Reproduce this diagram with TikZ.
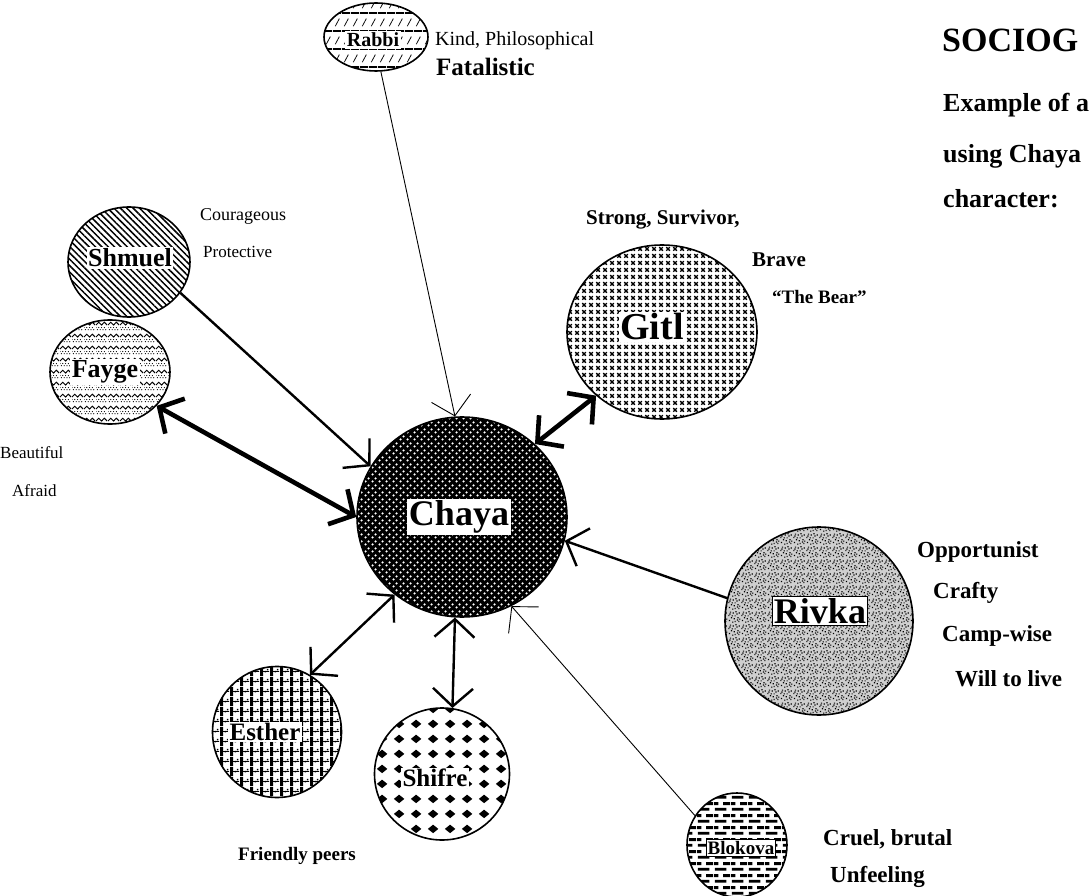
\documentclass[tikz,border=0pt]{standalone}
\usepackage{fontspec}
\setmainfont{Liberation Serif}
\usetikzlibrary{shapes.geometric,arrows.meta,patterns,patterns.meta}
\newcommand\fsz[1]{\fontsize{#1}{#1}\selectfont}
% --- fill patterns ---
\pgfdeclarepatternformonly{chayadots}{\pgfqpoint{0pt}{0pt}}{\pgfqpoint{7pt}{7pt}}{\pgfqpoint{7pt}{7pt}}{%
  \pgfpathcircle{\pgfqpoint{1.75pt}{1.75pt}}{1.4pt}%
  \pgfpathcircle{\pgfqpoint{5.25pt}{5.25pt}}{1.4pt}%
  \pgfusepath{fill}}
\pgfdeclarepatternformonly{gitlx}{\pgfqpoint{0pt}{0pt}}{\pgfqpoint{7pt}{7pt}}{\pgfqpoint{7pt}{7pt}}{%
  \pgfsetlinewidth{1.5pt}%
  \pgfpathmoveto{\pgfqpoint{1.5pt}{1.5pt}}\pgfpathlineto{\pgfqpoint{5.5pt}{5.5pt}}%
  \pgfpathmoveto{\pgfqpoint{1.5pt}{5.5pt}}\pgfpathlineto{\pgfqpoint{5.5pt}{1.5pt}}%
  \pgfusepath{stroke}}
\pgfdeclarepatternformonly{rivkanoise}{\pgfqpoint{0pt}{0pt}}{\pgfqpoint{13pt}{13pt}}{\pgfqpoint{13pt}{13pt}}{%
  \foreach \a/\b in {1/2,4/7,7/1,10/5,11.5/10,2/11,6/4,9/9,3/5,11/1,5/10,8/11.5,0.3/7.5,7/7,12/3.5,4.5/0.3,1.5/9,9.5/2.5}{%
    \pgfpathrectangle{\pgfqpoint{\a pt}{\b pt}}{\pgfqpoint{1.3pt}{1.3pt}}}%
  \pgfusepath{fill}}
\pgfdeclarepatternformonly{faygezig}{\pgfqpoint{0pt}{0pt}}{\pgfqpoint{12pt}{12pt}}{\pgfqpoint{12pt}{12pt}}{%
  \pgfsetlinewidth{1pt}%
  \pgfpathmoveto{\pgfqpoint{0pt}{7.5pt}}\pgfpathlineto{\pgfqpoint{3pt}{10.5pt}}%
  \pgfpathlineto{\pgfqpoint{6pt}{7.5pt}}\pgfpathlineto{\pgfqpoint{9pt}{10.5pt}}%
  \pgfpathlineto{\pgfqpoint{12pt}{7.5pt}}\pgfusepath{stroke}%
  \foreach \a/\b in {1.5/2.5,4.5/2.5,7.5/2.5,10.5/2.5,0/4.8,3/4.8,6/4.8,9/4.8}{%
    \pgfpathcircle{\pgfqpoint{\a pt}{\b pt}}{0.65pt}}%
  \pgfusepath{fill}}
\pgfdeclarepatternformonly{rabbistripe}{\pgfqpoint{0pt}{0pt}}{\pgfqpoint{9pt}{18pt}}{\pgfqpoint{9pt}{18pt}}{%
  \pgfsetlinewidth{1.8pt}%
  \pgfpathmoveto{\pgfqpoint{0pt}{1pt}}\pgfpathlineto{\pgfqpoint{9pt}{1pt}}\pgfusepath{stroke}%
  \pgfsetlinewidth{0.8pt}%
  \pgfpathmoveto{\pgfqpoint{2.5pt}{6pt}}\pgfpathlineto{\pgfqpoint{7pt}{14pt}}\pgfusepath{stroke}}
\pgfdeclarepatternformonly{esthercheck}{\pgfqpoint{0pt}{0pt}}{\pgfqpoint{10pt}{10pt}}{\pgfqpoint{10pt}{10pt}}{%
  \pgfpathrectangle{\pgfqpoint{0pt}{0pt}}{\pgfqpoint{3.5pt}{10pt}}%
  \pgfpathrectangle{\pgfqpoint{5pt}{4pt}}{\pgfqpoint{1.6pt}{1.6pt}}%
  \pgfpathrectangle{\pgfqpoint{7.5pt}{6.2pt}}{\pgfqpoint{1.6pt}{1.6pt}}%
  \pgfpathrectangle{\pgfqpoint{3.5pt}{4.6pt}}{\pgfqpoint{6.5pt}{0.8pt}}%
  \pgfusepath{fill}}
\pgfdeclarepatternformonly{shifrediamond}{\pgfqpoint{0pt}{0pt}}{\pgfqpoint{17pt}{15pt}}{\pgfqpoint{17pt}{15pt}}{%
  \pgfpathmoveto{\pgfqpoint{3pt}{7.5pt}}\pgfpathlineto{\pgfqpoint{8.5pt}{12pt}}%
  \pgfpathlineto{\pgfqpoint{14pt}{7.5pt}}\pgfpathlineto{\pgfqpoint{8.5pt}{3pt}}%
  \pgfpathclose\pgfusepath{fill}}
\pgfdeclarepatternformonly{blokbricks}{\pgfqpoint{0pt}{0pt}}{\pgfqpoint{17pt}{12pt}}{\pgfqpoint{17pt}{12pt}}{%
  \pgfpathrectangle{\pgfqpoint{1pt}{1.5pt}}{\pgfqpoint{12pt}{3pt}}%
  \pgfpathrectangle{\pgfqpoint{9.5pt}{7.5pt}}{\pgfqpoint{7.5pt}{3pt}}%
  \pgfpathrectangle{\pgfqpoint{0pt}{7.5pt}}{\pgfqpoint{4.5pt}{3pt}}%
  \pgfusepath{fill}}
\tikzset{
  person/.style={ellipse, draw=black, line width=1.6pt, inner sep=0pt},
  tag/.style={fill=white, inner sep=1.5pt, text=black},
  desc/.style={anchor=base west, inner sep=0pt},
  thinl/.style={line width=0.9pt},
  medl/.style={line width=2.4pt},
  thickl/.style={line width=4.6pt},
  bigbarb/.tip={Straight Barb[length=18pt,width=40pt]},
}
\begin{document}
\begin{tikzpicture}[x=1pt,y=-1pt]
\path[use as bounding box, fill=white] (0,0) rectangle (1090,896);

% ---- characters ----
\node[person, minimum width=104pt, minimum height=68pt, pattern=rabbistripe] (rabbi) at (376,37) {};
\node[person, minimum width=122pt, minimum height=110pt, pattern={Lines[angle=-45,distance=4.5pt,line width=1.5pt]}] (shmuel) at (129,262) {};
\node[person, minimum width=120pt, minimum height=104pt, pattern=faygezig] (fayge) at (110,372) {};
\node[person, minimum width=190pt, minimum height=174pt, pattern=gitlx] (gitl) at (662,332) {};
\node[person, minimum width=210pt, minimum height=200pt, preaction={fill=black}, pattern=chayadots, pattern color=white] (chaya) at (462,517) {};
\node[person, minimum width=188pt, minimum height=188pt, preaction={fill=gray!38}, pattern=rivkanoise] (rivka) at (819,621) {};
\node[person, minimum width=129pt, minimum height=131pt, pattern=esthercheck] (esther) at (277,732) {};
\node[person, minimum width=135pt, minimum height=132pt, pattern=shifrediamond] (shifre) at (442,774) {};
\node[person, minimum width=100pt, minimum height=104pt, pattern=blokbricks] (blokova) at (737,845) {};

% ---- connectors ----
\draw[thinl, -bigbarb] (rabbi.-82) -- (chaya.94);
\draw[medl, -bigbarb] (shmuel.-31) -- (chaya.151);
\draw[thickl, bigbarb-bigbarb] (fayge.-36) -- (chaya.180);
\draw[thickl, bigbarb-bigbarb] (gitl.224) -- (chaya.45);
\draw[medl, -bigbarb] (rivka.166) -- (chaya.-13);
\draw[thinl, -bigbarb] (blokova.145) -- (chaya.-61);
\draw[medl, bigbarb-bigbarb] (esther.60) -- (chaya.-131);
\draw[medl, bigbarb-bigbarb] (shifre.81) -- (chaya.-94);

% ---- name tags ----
\node[tag, font=\bfseries\fsz{20}] (rabbiT) at (373,40) {Rabbi};
\node[tag, font=\bfseries\fsz{26}] (shmuelT) at (130,258) {Shmuel};
\node[tag, font=\bfseries\fsz{26}] (faygeT) at (105,372) {Fayge};
\node[tag, font=\bfseries\fsz{38}] (gitlT) at (652,327) {Gitl};
\node[tag, font=\bfseries\fsz{36}] (chayaT) at (459,517) {Chaya};
\node[tag, draw=black, line width=0.8pt, font=\bfseries\fsz{36}] (rivkaT) at (820,611) {Rivka};
\node[tag, font=\bfseries\fsz{25}] (estherT) at (265,732) {Esther};
\node[tag, font=\bfseries\fsz{25}] (shifreT) at (435,778) {Shifre};
\node[tag, draw=black, line width=0.8pt, font=\bfseries\fsz{19}] (blokovaT) at (741,848) {Blokova};

% ---- descriptions ----
\node[desc, font=\fsz{20}] (d1) at (435,46) {Kind, Philosophical};
\node[desc, font=\bfseries\fsz{25}] (d2) at (436,76) {Fatalistic};
\node[desc, font=\fsz{18}] (d3) at (200,221) {Courageous};
\node[desc, font=\fsz{17}] (d4) at (203,258) {Protective};
\node[desc, font=\bfseries\fsz{21}] (d5) at (586,225) {Strong, Survivor,};
\node[desc, font=\bfseries\fsz{21}] (d6) at (752,266) {Brave};
\node[desc, font=\bfseries\fsz{19}] (d7) at (772,303) {``The Bear''};
\node[desc, font=\fsz{17}] (d8) at (0,458) {Beautiful};
\node[desc, font=\fsz{17}] (d9) at (12,496) {Afraid};
\node[desc, font=\bfseries\fsz{23}] (d10) at (917,557) {Opportunist};
\node[desc, font=\bfseries\fsz{23}] (d11) at (933,598) {Crafty};
\node[desc, font=\bfseries\fsz{23}] (d12) at (942,641) {Camp-wise};
\node[desc, font=\bfseries\fsz{23}] (d13) at (955,686) {Will to live};
\node[desc, font=\bfseries\fsz{19}] (d14) at (238,860) {Friendly peers};
\node[desc, font=\bfseries\fsz{23}] (d15) at (823,845) {Cruel, brutal};
\node[desc, font=\bfseries\fsz{23}] (d16) at (830,882) {Unfeeling};

% ---- title ----
\node[desc, font=\bfseries\fsz{34}] (title) at (942,52) {SOCIOG};
\node[desc, font=\bfseries\fsz{26}] (s1) at (943,112) {Example of a};
\node[desc, font=\bfseries\fsz{26}] (s2) at (943,163) {using Chaya};
\node[desc, font=\bfseries\fsz{26}] (s3) at (943,208) {character:};
\end{tikzpicture}
\end{document}
